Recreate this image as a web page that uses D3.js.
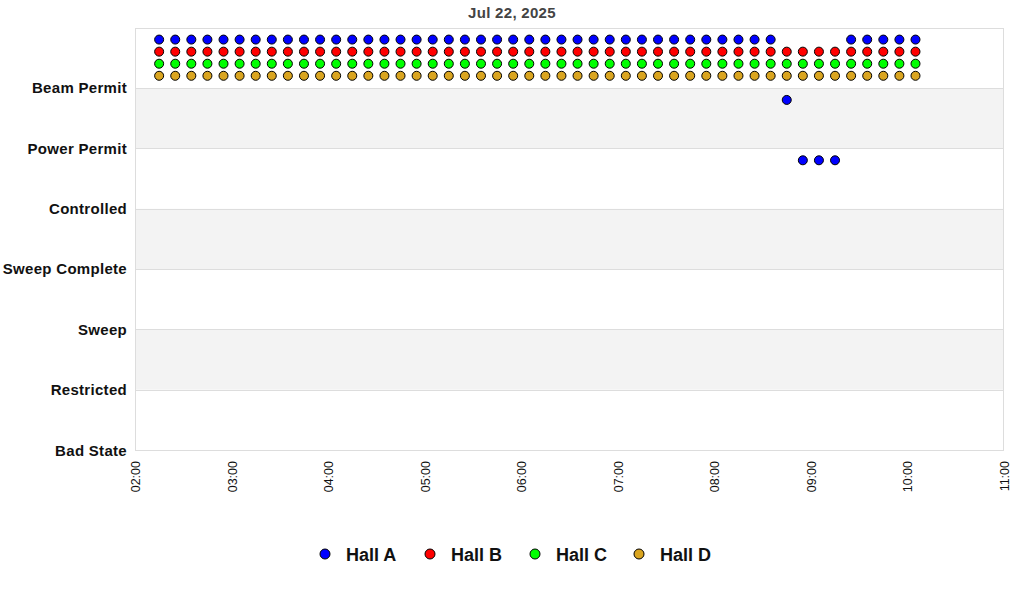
<!DOCTYPE html>
<html>
<head>
<meta charset="utf-8">
<script src="https://cdn.jsdelivr.net/npm/d3@7"></script>
<style>
  html, body { margin: 0; padding: 0; background: #fff; }
  svg { display: block; font-family: "Liberation Sans", Arial, sans-serif; }
</style>
</head>
<body>
<svg id="chart" width="1024" height="600"></svg>
<script>
// ---- data ----
const title = "Jul 22, 2025";
const stateLabels = ["Bad State", "Restricted", "Sweep", "Sweep Complete", "Controlled", "Power Permit", "Beam Permit"];
const xTickLabels = ["02:00", "03:00", "04:00", "05:00", "06:00", "07:00", "08:00", "09:00", "10:00", "11:00"];
const halls = ["Hall A", "Hall B", "Hall C", "Hall D"];
const hallColors = ["#0000ff", "#ff0000", "#00ff00", "#daa520"];
const hallOffsets = [0.8, 0.6, 0.4, 0.2];
// sample times: minutes after midnight, 02:15 to 10:05 every 10 minutes
const sampleTimes = [135, 145, 155, 165, 175, 185, 195, 205, 215, 225, 235, 245, 255, 265, 275, 285,
  295, 305, 315, 325, 335, 345, 355, 365, 375, 385, 395, 405, 415, 425, 435, 445,
  455, 465, 475, 485, 495, 505, 515, 525, 535, 545, 555, 565, 575, 585, 595, 605];
// state index per sample (6 = Beam Permit, 5 = Power Permit, 4 = Controlled)
const hallA = [6,6,6,6,6,6,6,6,6,6,6,6,6,6,6,6,6,6,6,6,6,6,6,6,6,6,6,6,6,6,6,6,6,6,6,6,6,6,6,5,4,4,4,6,6,6,6,6];
const hallB = [6,6,6,6,6,6,6,6,6,6,6,6,6,6,6,6,6,6,6,6,6,6,6,6,6,6,6,6,6,6,6,6,6,6,6,6,6,6,6,6,6,6,6,6,6,6,6,6];
const hallC = [6,6,6,6,6,6,6,6,6,6,6,6,6,6,6,6,6,6,6,6,6,6,6,6,6,6,6,6,6,6,6,6,6,6,6,6,6,6,6,6,6,6,6,6,6,6,6,6];
const hallD = [6,6,6,6,6,6,6,6,6,6,6,6,6,6,6,6,6,6,6,6,6,6,6,6,6,6,6,6,6,6,6,6,6,6,6,6,6,6,6,6,6,6,6,6,6,6,6,6];
const hallSeries = [hallA, hallB, hallC, hallD];

// ---- layout ----
const svg = d3.select("#chart");
const plot = { left: 135, right: 1004, top: 27.5, bottom: 450 };
const x = d3.scaleLinear().domain([120, 660]).range([plot.left, plot.right]);
const y = d3.scaleLinear().domain([0, 7]).range([plot.bottom, plot.top]);

// background bands
const bands = d3.range(0, 7);
svg.append("g").selectAll("rect").data(bands).join("rect")
  .attr("x", plot.left).attr("width", plot.right - plot.left)
  .attr("y", d => y(d + 1)).attr("height", d => y(d) - y(d + 1))
  .attr("fill", d => (d % 2 === 1) ? "#f3f3f3" : "#ffffff");

// grid lines
svg.append("g").selectAll("line").data(d3.range(0, 8)).join("line")
  .attr("x1", plot.left).attr("x2", plot.right)
  .attr("y1", d => Math.round(y(d)) + 0.5).attr("y2", d => Math.round(y(d)) + 0.5)
  .attr("stroke", "#dddddd").attr("stroke-width", 1);

// border
svg.append("rect")
  .attr("x", plot.left + 0.5).attr("y", Math.round(plot.top) + 0.5)
  .attr("width", plot.right - plot.left - 1).attr("height", Math.round(plot.bottom) - Math.round(plot.top))
  .attr("fill", "none").attr("stroke", "#dddddd");

// title
svg.append("text").attr("x", 512).attr("y", 17.5).attr("text-anchor", "middle")
  .attr("font-size", 15).attr("font-weight", "bold").attr("fill", "#444")
  .attr("letter-spacing", 0.3)
  .text(title);

// y labels
svg.append("g").selectAll("text").data(stateLabels).join("text")
  .attr("x", 127).attr("y", (d, i) => y(i) + 5.5)
  .attr("text-anchor", "end").attr("font-size", 15).attr("font-weight", "bold").attr("fill", "#111")
  .attr("letter-spacing", 0.3)
  .text(d => d);

// x tick labels
svg.append("g").selectAll("text").data(xTickLabels).join("text")
  .attr("transform", (d, i) => `translate(${x(120 + i * 60) + 5},${461}) rotate(-90)`)
  .attr("text-anchor", "end").attr("font-size", 12.5).attr("fill", "#111")
  .text(d => d);

// markers
hallSeries.forEach((series, h) => {
  svg.append("g").selectAll("circle").data(series).join("circle")
    .attr("cx", (d, i) => x(sampleTimes[i]))
    .attr("cy", d => y(d + hallOffsets[h]))
    .attr("r", 4.5)
    .attr("fill", hallColors[h]).attr("stroke", "#000").attr("stroke-width", 1);
});

// legend
const legendX = [325, 430, 535, 639];
const lg = svg.append("g").selectAll("g").data(halls).join("g")
  .attr("transform", (d, i) => `translate(${legendX[i]},554)`);
lg.append("circle").attr("r", 5).attr("fill", (d, i) => hallColors[i])
  .attr("stroke", "#000").attr("stroke-width", 1);
lg.append("text").attr("x", 21).attr("y", 6.5).attr("font-size", 18).attr("font-weight", "bold")
  .attr("fill", "#111").text(d => d);
</script>
</body>
</html>
